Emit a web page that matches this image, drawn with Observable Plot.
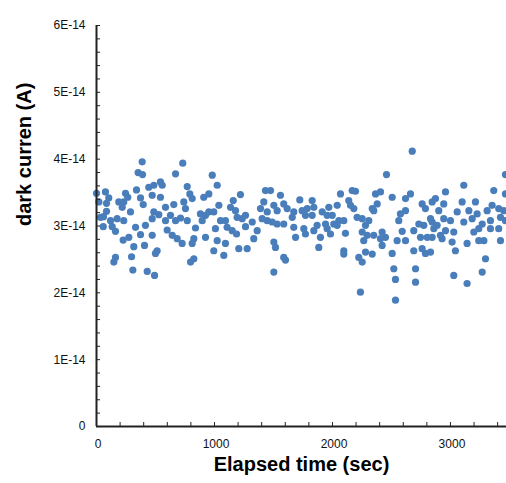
<!DOCTYPE html>
<html>
<head>
<meta charset="utf-8">
<script src="https://cdn.jsdelivr.net/npm/d3@7"></script>
<script src="https://cdn.jsdelivr.net/npm/@observablehq/plot@0.6"></script>
<style>
  html, body { margin: 0; padding: 0; background: #fff; }
  #chart svg { display: block; }
</style>
</head>
<body>
<div id="chart"></div>
<script>
// Elapsed time (sec) of each measurement
const elapsedSec = [
  387,353,390,0,76,20,104,85,246,265,189,231,218,339,373,396,443,85,34,59,
  119,175,231,288,57,133,161,331,415,373,274,226,316,407,161,147,297,308,430,
  731,670,542,486,557,769,791,811,909,952,542,472,585,655,740,754,486,472,528,585,
  627,670,712,881,924,952,769,839,896,599,642,684,726,825,811,924,472,514,500,825,797,492,
  981,1023,1432,1220,1159,1037,1136,1178,994,1418,1390,1447,1051,1093,1192,1235,1263,1320,1404,1447,
  1008,1107,1150,1263,1362,1333,1023,1093,994,1079,1206,1277,1187,
  1475,1559,1723,1828,1503,1587,1616,1531,1672,1743,1786,1842,1913,1969,1659,1771,1828,1955,1489,1531,
  1587,1672,1757,1870,1941,1955,1687,1771,1842,1898,1884,1503,1517,1587,1602,1503,
  2458,2068,2167,2195,2365,2407,2040,2138,2153,2181,2379,2337,2350,1998,2054,2096,2209,2252,2308,2011,
  2040,2280,1983,2110,2252,2294,2350,2421,2407,2449,2265,2421,2096,2096,2280,2337,2223,2252,2237,
  2676,2958,2661,2619,2873,2845,2760,2788,2506,2619,2943,2901,2576,2562,2831,2845,2943,2732,2774,2887,
  2591,2689,2859,2958,2548,2619,2746,2803,2845,2915,2929,2689,2760,2788,2831,2506,2520,2534,2704,2704,2534,
  3466,3113,3367,3466,3099,3212,3353,3409,3057,3156,3226,3311,3452,3000,3113,3184,3269,3339,3424,3466,
  3028,3198,3240,3339,3409,3014,3141,3240,3283,3424,3042,3297,3269,3028,3141
];
// Dark current, in units of 1E-14 A
const darkCurrentE14 = [
  3.96,3.80,3.77,3.49,3.51,3.36,3.42,3.34,3.49,3.43,3.36,3.36,3.28,3.54,3.42,3.32,3.58,3.22,3.13,3.14,
  3.08,3.11,3.08,3.21,2.99,2.99,2.92,2.98,3.01,2.87,2.83,2.79,2.69,2.71,2.53,2.46,2.54,2.34,2.32,
  3.94,3.78,3.66,3.61,3.61,3.59,3.48,3.41,3.43,3.48,3.43,3.46,3.28,3.32,3.36,3.26,3.21,3.11,3.17,3.08,
  3.16,3.08,3.12,3.18,3.16,3.21,3.08,2.97,3.08,2.94,2.86,2.81,2.74,2.81,2.74,2.83,2.86,2.63,2.59,2.51,2.46,2.26,
  3.76,3.61,3.53,3.47,3.38,3.31,3.28,3.23,3.21,3.36,3.26,3.21,3.08,3.08,3.13,3.11,3.16,3.06,3.11,3.08,
  2.96,2.98,2.93,2.99,2.93,2.81,2.78,2.74,2.63,2.56,2.66,2.66,2.88,
  3.53,3.46,3.39,3.38,3.31,3.33,3.26,3.23,3.21,3.23,3.26,3.28,3.21,3.28,3.13,3.16,3.16,3.16,3.06,3.03,
  3.03,2.98,2.96,3.01,3.03,2.96,2.83,2.88,2.93,2.83,2.68,2.76,2.68,2.53,2.49,2.31,
  3.77,3.48,3.53,3.52,3.48,3.51,3.31,3.38,3.31,3.26,3.33,3.26,3.23,3.16,3.08,3.08,3.13,3.11,3.08,3.03,
  3.01,3.01,2.88,2.89,2.91,2.86,2.86,2.91,2.81,2.83,2.78,2.71,2.63,2.58,2.61,2.58,2.53,2.46,2.01,
  4.12,3.51,3.48,3.41,3.41,3.36,3.33,3.26,3.43,3.23,3.33,3.23,3.18,3.08,3.11,3.06,3.11,3.03,3.01,3.01,
  2.92,2.93,2.96,2.93,2.78,2.78,2.83,2.83,2.83,2.86,2.81,2.63,2.66,2.59,2.61,2.59,2.36,2.20,2.36,2.16,1.89,
  3.77,3.61,3.53,3.48,3.36,3.36,3.31,3.26,3.21,3.23,3.18,3.23,3.23,3.08,3.06,3.11,3.03,3.08,3.13,3.08,
  2.91,2.91,2.96,2.96,2.96,2.76,2.74,2.78,2.78,2.78,2.63,2.51,2.31,2.26,2.14
];

const yMajorTicks = [0, 1, 2, 3, 4, 5, 6];
const yTickLabels = ["0", "1E-14", "2E-14", "3E-14", "4E-14", "5E-14", "6E-14"];
const yMinorTicks = d3.range(0, 6.0001, 0.2);
const xMajorTicks = [0, 1000, 2000, 3000];
const xTickLabels = ["0", "1000", "2000", "3000"];
const xMinorTicks = d3.range(0, 3401, 200);
const xDomain = [0, 3475];
const yDomain = [0, 6];
const xTitle = "Elapsed time (sec)";
const yTitle = "dark curren (A)";

const n = Math.min(elapsedSec.length, darkCurrentE14.length);
const points = d3.range(n).map(i => ({t: elapsedSec[i], c: darkCurrentE14[i]}));
const yTicks = yMajorTicks.map((v, i) => ({v, label: yTickLabels[i]}));
const xTicks = xMajorTicks.map((v, i) => ({v, label: xTickLabels[i]}));

const font = "'Liberation Sans', Arial, Helvetica, sans-serif";

const chart = Plot.plot({
  width: 506,
  height: 483,
  marginLeft: 96,
  marginRight: 0,
  marginTop: 25,
  marginBottom: 57,
  style: {fontFamily: font, background: "#fff", color: "#111"},
  x: {domain: xDomain, axis: null},
  y: {domain: yDomain, axis: null},
  marks: [
    Plot.dot(points, {x: "t", y: "c", r: 3.6, fill: "#4a7ebb", stroke: "none"}),
    // inward minor/major ticks
    Plot.tickY(yMinorTicks, {y: d => d, insetRight: 406, stroke: "#222", strokeWidth: 1}),
    Plot.tickX(xMinorTicks, {x: d => d, insetTop: 397, stroke: "#222", strokeWidth: 1}),
    // axis lines
    Plot.ruleX([0], {x: d => d, stroke: "#222", strokeWidth: 2}),
    Plot.ruleY([0], {y: d => d, stroke: "#222", strokeWidth: 2}),
    // tick labels
    Plot.text(yTicks, {x: () => 0, y: "v", text: "label", textAnchor: "end", dx: -11,
      fontSize: 12, fill: "#111", ariaLabel: "ytick-label"}),
    Plot.text(xTicks, {x: "v", y: () => 0, text: "label", dy: 18, dx: 1.5,
      fontSize: 12, fill: "#111", ariaLabel: "xtick-label"}),
    // titles
    Plot.text([yTitle], {frameAnchor: "left", rotate: -90, dx: -72, fontSize: 20,
      fontWeight: "bold", fill: "#000"}),
    Plot.text([xTitle], {frameAnchor: "bottom", dy: 44, fontSize: 20,
      fontWeight: "bold", fill: "#000"})
  ]
});

d3.select(chart).selectAll('g[aria-label="ytick-label"] text, g[aria-label="xtick-label"] text')
  .attr("letter-spacing", "3px");

document.getElementById("chart").appendChild(chart);
</script>
</body>
</html>
